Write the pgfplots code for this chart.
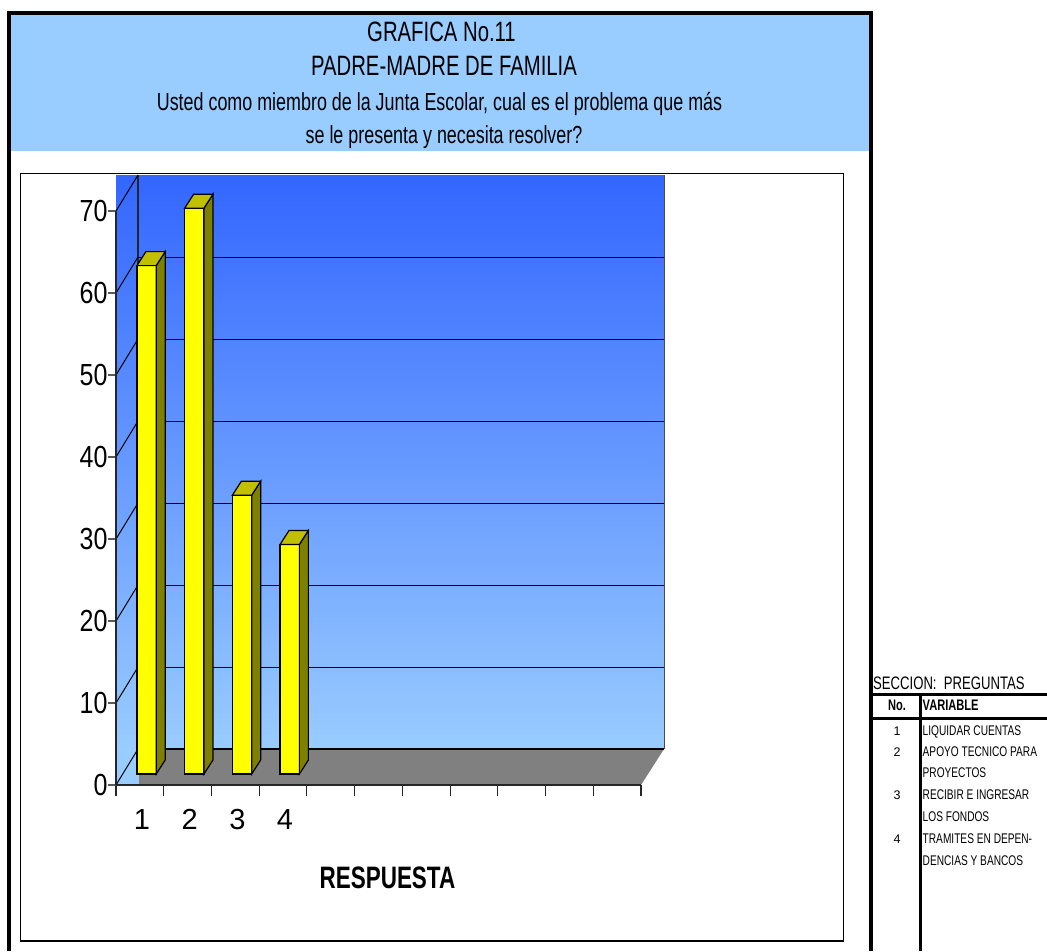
\documentclass[border=0pt]{standalone}
\usepackage{fontspec}
\setmainfont{Liberation Sans}
\newfontfamily\narrow[FakeStretch=0.725]{Liberation Sans}
\newfontfamily\numfont[FakeStretch=0.82]{Liberation Sans}
\usepackage{pgfplots}
\pgfplotsset{compat=1.18}
\usepackage{pgfplotstable}

\definecolor{wallTop}{HTML}{3366FF}
\definecolor{wallBot}{HTML}{99CCFF}
\definecolor{floorG}{HTML}{808080}
\definecolor{barF}{HTML}{FFFF00}
\definecolor{barS}{HTML}{808000}
\definecolor{barT}{HTML}{C0C000}

\pgfplotstableread{
cat val
1 62
2 69
3 34
4 28
}\datatable

\newcommand{\fs}[1]{\fontsize{#1}{#1}\selectfont}

\pgfplotsset{plane/.style={
    scale only axis, width=525pt, height=574pt,
    xmin=0.5, xmax=11.5, ymin=0, ymax=70,
    clip=false,
}}

\begin{document}
\begin{tikzpicture}
\path[use as bounding box] (0pt,0pt) rectangle (1047pt,-951pt);

\begin{scope}[x=1pt,y=-1pt]
% header band and frames
\fill[wallBot] (10,15) rectangle (870,151);
\draw[line width=4pt] (9,951) -- (9,13) -- (871,13) -- (871,951);
\draw[line width=1.5pt] (20.5,173.5) rectangle (843.5,941);
% walls
\shade[top color=wallTop,bottom color=wallBot] (116,175) rectangle (664,749);
\fill[wallBot] (116,749) rectangle (139,785);
\draw[line width=0.8pt,black!70] (664,175) -- (664,749);
\draw[line width=1.2pt,black!85] (138,175) -- (138,749);
% title
\node[font=\narrow\fs{28},anchor=base] at (441.5,41.7) {GRAFICA No.11};
\node[font=\narrow\fs{28},anchor=base] at (444,75.3) {PADRE-MADRE DE FAMILIA};
\node[font=\narrow\fs{24.7},anchor=base] at (439.5,110) {Usted como miembro de la Junta Escolar, cual es el problema que más};
\node[font=\narrow\fs{24.7},anchor=base] at (444,143) {se le presenta y necesita resolver?};
\end{scope}

% gridlines on the back wall
\begin{axis}[plane, at={(138pt,-749pt)}, anchor=south west,
    width=526pt, axis lines=none]
\addplot[draw=none] coordinates {(1,0) (11,70)};
\draw[black,line width=1pt] (axis cs:0.5,10) -- (axis cs:11.5,10);
\draw[black,line width=1pt] (axis cs:0.5,20) -- (axis cs:11.5,20);
\draw[black,line width=1pt] (axis cs:0.5,30) -- (axis cs:11.5,30);
\draw[black,line width=1pt] (axis cs:0.5,40) -- (axis cs:11.5,40);
\draw[black,line width=1pt] (axis cs:0.5,50) -- (axis cs:11.5,50);
\draw[black,line width=1pt] (axis cs:0.5,60) -- (axis cs:11.5,60);
\end{axis}

\begin{scope}[x=1pt,y=-1pt]
% floor
\fill[floorG] (139,749) -- (664,749) -- (641,785) -- (139,785) -- cycle;
\draw[black,line width=1.2pt] (139,749) -- (664,749);
% side wall diagonals
\foreach \y in {211,293,375,457,539,621,703,785}
  \draw[black,line width=1pt] (116,\y) -- (138,\y-36);
\end{scope}

% front plane: axis lines, ticks, labels
\begin{axis}[plane, at={(116pt,-785pt)}, anchor=south west,
    axis lines=left, axis line style={-,black!85,line width=1.4pt},
    xtick={1,2,3,4}, xticklabels={1,2,3,4},
    minor xtick={0.5,1.5,...,11.5},
    ytick={0,10,...,70},
    tick align=outside, major tick length=8pt, minor tick length=11pt,
    major x tick style={draw=none},
    minor x tick style={black!85,line width=1.1pt},
    major y tick style={black!65,line width=1.1pt},
    yticklabel style={font=\numfont\fs{30.5},inner sep=0.3pt},
    xticklabel style={font=\fs{29},xshift=2pt,yshift=-13pt},
    /pgf/number format/assume math mode=true,
    xlabel={RESPUESTA},
    every axis x label/.style={at={(axis description cs:0.517,0)},anchor=center,
      yshift=-93pt,font=\narrow\bfseries\fs{31}},
]
\addplot[draw=none] coordinates {(1,0) (11,70)};
\end{axis}

% bars, in the plane 11 px in front of the back of the floor
\begin{axis}[plane, at={(122.7pt,-774pt)}, anchor=south west, axis lines=none]
\addplot[scatter, only marks, mark options={draw=none,fill=none}, mark size=0pt,
    visualization depends on={\thisrow{val}*8.2 \as \barh},
    scatter/@pre marker code/.code={
      \scope
      \draw[black,line width=1.2pt,fill=barS] (9.65pt,0pt) -- (18.65pt,14pt)
        -- (18.65pt,14pt-\barh pt) -- (9.65pt,-\barh pt) -- cycle;
      \draw[black,line width=1.2pt,fill=barT] (-9.65pt,0pt) -- (-0.65pt,14pt)
        -- (18.65pt,14pt) -- (9.65pt,0pt) -- cycle;
    },
    scatter/@post marker code/.code={\endscope},
  ] table[x=cat,y=val] {\datatable};
\addplot[ybar, bar width=19.3pt, draw=black, line width=1.2pt, fill=barF]
  table[x=cat,y=val] {\datatable};
\end{axis}

\begin{scope}[x=1pt,y=-1pt]
% side table
\draw[line width=3pt] (871,694.5) -- (1047,694.5);
\draw[line width=3pt] (871,718.5) -- (1047,718.5);
\draw[line width=3pt] (920.5,694) -- (920.5,951);
\node[font=\narrow\fs{18.1},anchor=base west,inner sep=0pt] at (873,689.3) {SECCION:\ \ PREGUNTAS};
\node[font=\narrow\bfseries\fs{15.3},anchor=base,inner sep=0pt] at (897,710.7) {No.};
\node[font=\narrow\bfseries\fs{15.3},anchor=base west,inner sep=0pt] at (922.5,710.7) {VARIABLE};
\foreach \n/\y in {1/731,2/752,3/795,4/839}
  \node[font=\fs{12.5},anchor=base,inner sep=0pt] at (897,\y+4) {\n};
\foreach \t/\y in {LIQUIDAR CUENTAS/731,APOYO TECNICO PARA/752,PROYECTOS/773,
    RECIBIR E INGRESAR/795,LOS FONDOS/817,TRAMITES EN DEPEN-/839,DENCIAS Y BANCOS/861}
  \node[font=\narrow\fs{14},anchor=base west,inner sep=0pt] at (922.5,\y+4.2) {\t};
\end{scope}
\end{tikzpicture}
\end{document}
